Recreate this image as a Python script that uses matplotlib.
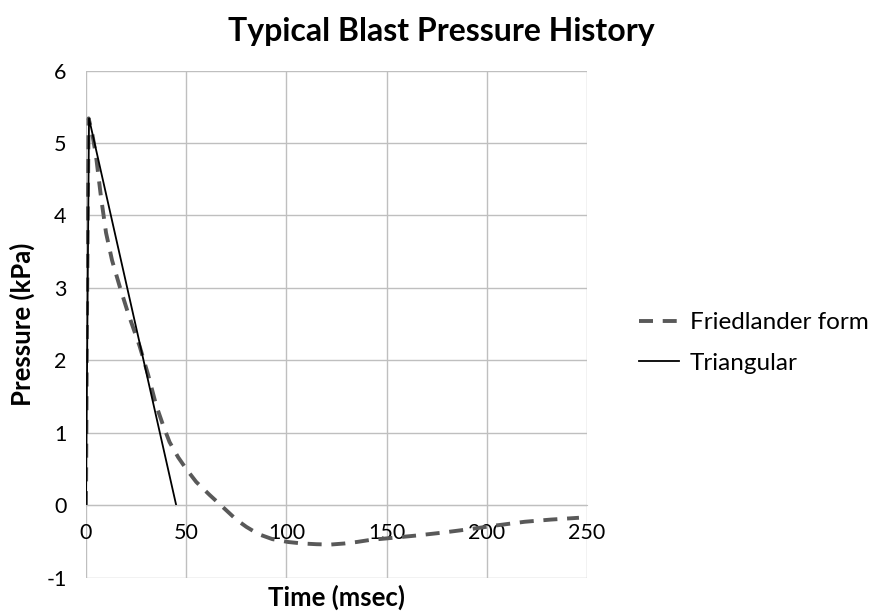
import matplotlib.pyplot as plt

# Friedlander form
fried_t = [0, 0.5, 1.3, 3, 5, 7.5, 10, 13, 16.7, 21, 26.7, 31, 35, 38.5, 41.7, 46, 50, 55,
           61.7, 68, 75, 80, 86, 93, 101, 108, 115, 122, 129, 135, 142, 150, 165, 178,
           192, 205, 219, 232, 246]
fried_p = [0, 2.6, 5.34, 5.15, 4.82, 4.25, 3.76, 3.38, 3.03, 2.65, 2.2, 1.8, 1.38, 1.1, 0.87,
           0.66, 0.5, 0.32, 0.14, -0.02, -0.2, -0.3, -0.4, -0.47, -0.51, -0.53, -0.54, -0.545,
           -0.53, -0.51, -0.48, -0.46, -0.42, -0.38, -0.33, -0.28, -0.23, -0.2, -0.175]

# Triangular approximation
tri_t = [0, 1.5, 45]
tri_p = [0, 5.34, 0]

xticks = [0, 50, 100, 150, 200, 250]
yticks = [-1, 0, 1, 2, 3, 4, 5, 6]

plt.rcParams['font.family'] = ['Lato', 'DejaVu Sans']
plt.rcParams['axes.unicode_minus'] = False

fig = plt.figure(figsize=(8.82, 6.11), dpi=100)
ax = fig.add_axes([0.0975, 0.0548, 0.568, 0.8297])

ax.plot(fried_t, fried_p, color='#595959', lw=2.8, dashes=(3.6, 2.5), label='Friedlander form')
ax.plot(tri_t, tri_p, color='black', lw=1.3, label='Triangular')

ax.set_xlim(0, 250)
ax.set_ylim(-1, 6)
ax.set_xticks(xticks)
ax.set_yticks(yticks)
ax.grid(True, color='#bfbfbf', lw=1)
ax.set_axisbelow(True)

# all box lines come from the grid; x axis line sits at 0
for s in ['top', 'right', 'left']:
    ax.spines[s].set_visible(False)
ax.spines['bottom'].set_position(('data', 0))
ax.spines['bottom'].set_color('#bfbfbf')

ax.tick_params(axis='both', length=0, labelsize=15.5)
ax.tick_params(axis='x', pad=13)
ax.tick_params(axis='y', pad=14)

fig.suptitle('Typical Blast Pressure History', x=0.5, y=0.972, fontsize=23, fontweight='bold')
ax.set_ylabel('Pressure (kPa)', fontsize=18.5, fontweight='bold', labelpad=8)
ax.text(0.5, -0.015, 'Time (msec)', transform=ax.transAxes, ha='center', va='top',
        fontsize=18.5, fontweight='bold')

ax.legend(loc='center left', bbox_to_anchor=(1.06, 0.463), frameon=False, fontsize=17.5,
          handlelength=1.65, labelspacing=0.8, handletextpad=0.45)

fig.savefig('out.png', dpi=100)
